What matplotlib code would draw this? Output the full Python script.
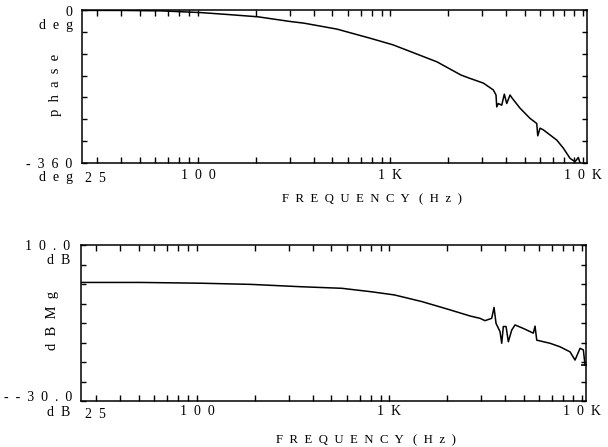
import numpy as np
import matplotlib
matplotlib.use('Agg')
import matplotlib.pyplot as plt

plt.rcParams['font.family'] = ['Liberation Serif', 'DejaVu Serif']

# 相位曲线 (Hz, deg)
phase_freq = [25, 39, 64, 103, 147, 205, 301, 356, 528, 793, 1032, 1177, 1745,
              2325, 2593, 3039, 3423, 3536, 3567, 3635, 3787, 3906, 4020, 4182,
              4299, 4440, 4714, 5312, 5756, 5826, 5985, 6227, 6748, 7310, 7912,
              8571, 9098, 9465, 9660, 10250]
phase_deg = [-1, -1, -2, -6, -11, -16, -27, -31, -45, -67, -82, -92, -122,
             -153, -161, -172, -188, -200, -228, -220, -224, -198, -220, -200,
             -208, -216, -231, -255, -267, -296, -278, -282, -294, -306, -325,
             -349, -357, -347, -360, -368]

# 幅度曲线 (Hz, dBMg)
gain_freq = [25, 51, 105, 191, 347, 565, 809, 1061, 1472, 2023, 2623, 2955,
             3138, 3400, 3495, 3580, 3754, 3832, 3906, 4035, 4148, 4320, 4493,
             4963, 5593, 5707, 5826, 6832, 7695, 8676, 9210, 9778, 10172, 10381]
gain_db = [0.4, 0.4, 0.2, -0.1, -0.7, -1.1, -2.0, -2.8, -4.5, -6.5, -8.2, -8.8,
           -9.4, -8.8, -6.0, -10.1, -12.2, -15.2, -10.9, -10.9, -14.8, -11.8,
           -10.5, -11.4, -12.6, -10.8, -14.4, -15.2, -16.1, -17.4, -19.5, -16.5,
           -16.9, -20.8]

x_major = [100, 1000, 10000]
x_major_labels = ['100', '1K', '10K']
x_minor = [30, 40, 50, 60, 70, 80, 90, 200, 300, 400, 500, 600, 700, 800, 900,
           2000, 3000, 4000, 5000, 6000, 7000, 8000, 9000]

W, H = 608, 447
FS = 10
fig = plt.figure(figsize=(W / 100, H / 100), dpi=100)


def sp(s):
    # 绘图仪风格的宽字距
    words = s.split(' ')
    return '   '.join('  '.join(w) for w in words)


def px(x, y):
    return x / W, 1 - y / H


def label(x, y, s, fs=FS, **kw):
    kw.setdefault('ha', 'right')
    kw.setdefault('va', 'baseline')
    fig.text(*px(x, y), sp(s), fontsize=fs, **kw)


def make_axes(left, top, right, bottom, pad):
    ax = fig.add_axes([left / W, 1 - bottom / H, (right - left) / W, (bottom - top) / H])
    ax.set_xscale('log')
    ax.set_xlim(25, 10500)
    ax.set_xticks(x_major)
    ax.set_xticklabels([sp(t) for t in x_major_labels])
    ax.set_xticks(x_minor, minor=True)
    ax.xaxis.set_minor_formatter(plt.NullFormatter())
    ax.tick_params(axis='x', which='both', direction='in', top=True, length=4.5,
                   width=1.0, labelsize=FS, pad=pad)
    ax.tick_params(axis='y', which='both', direction='in', right=True, left=True,
                   length=3.6, width=1.0, labelleft=False)
    for s in ax.spines.values():
        s.set_linewidth(1.1)
    return ax


# 上图：相位
ax1 = make_axes(82, 10, 587, 163, pad=4.6)
ax1.plot(phase_freq, phase_deg, color='black', lw=1.1)
ax1.set_ylim(-360, 0)
ax1.set_yticks(np.linspace(-360, 0, 8))
label(72, 16, '0')
label(73, 29, 'deg')
label(72, 168, '-360')
label(73, 181, 'deg')
label(85, 182, '25', ha='left')
label(56, 85, 'phase', fs=10.5, rotation=90, ha='center', va='center')
label(372, 202, 'FREQUENCY (Hz)', fs=9.2, ha='center')

# 下图：幅度
ax2 = make_axes(81, 245, 586, 401, pad=3.2)
ax2.plot(gain_freq, gain_db, color='black', lw=1.1)
ax2.plot(gain_freq[-1:], gain_db[-1:], color='black', marker='_', ms=6, mew=1.2)
ax2.set_ylim(-30, 10)
ax2.set_yticks(np.linspace(-30, 10, 9))
label(70, 250, '10.0')
label(70, 264, 'dB')
label(72, 401, '--30.0')
label(70, 416, 'dB')
label(85, 418, '25', ha='left')
label(53, 320, 'dBMg', fs=10.5, rotation=90, ha='center', va='center')
label(366, 443, 'FREQUENCY (Hz)', fs=9.2, ha='center')

plt.savefig('out.png', dpi=100)
